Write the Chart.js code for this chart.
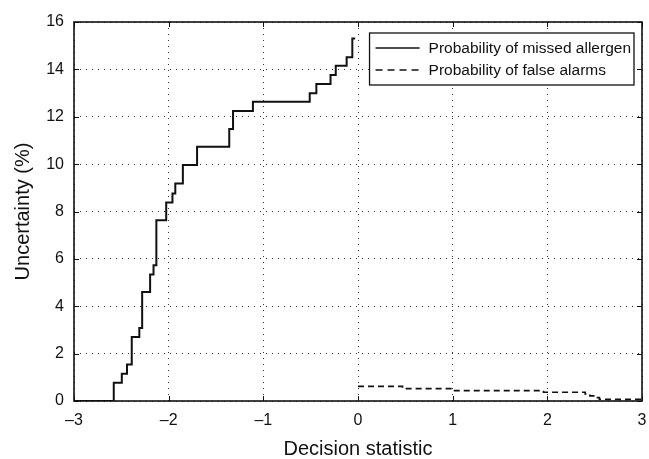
<!DOCTYPE html>
<html>
<head>
<meta charset="utf-8">
<script src="https://cdn.jsdelivr.net/npm/chart.js@4"></script>
<style>
  html, body { margin: 0; padding: 0; background: #fff; }
  #wrap { width: 649px; height: 459px; }
</style>
</head>
<body>
<div id="wrap"><canvas id="chart"></canvas></div>
<script>
// Вероятность пропуска аллергена (ступенчатая)
const missedX = [-3, -2.58, -2.495, -2.44, -2.39, -2.31, -2.28, -2.196, -2.16, -2.13, -2.026, -1.96, -1.93,
    -1.85, -1.70, -1.36, -1.32, -1.11, -0.51, -0.44, -0.29, -0.235, -0.12, -0.06, -0.03];
const missedY = [0, 0.77, 1.15, 1.54, 2.70, 3.08, 4.6, 5.34, 5.73, 7.63, 8.38, 8.76, 9.18,
    9.96, 10.73, 11.48, 12.24, 12.63, 12.99, 13.38, 13.76, 14.15, 14.51, 15.3, 15.3];

// Вероятность ложных тревог
const falseX = [0, 0.47, 1.0, 1.96, 2.40, 2.45, 2.50, 2.55, 3];
const falseY = [0.62, 0.52, 0.44, 0.37, 0.30, 0.22, 0.14, 0.07, 0.07];

const seriesLabels = ['Probability of missed allergen', 'Probability of false alarms'];
const xTicks = [-3, -2, -1, 0, 1, 2, 3];
const yTicks = [0, 2, 4, 6, 8, 10, 12, 14, 16];

const FONT = "'Liberation Sans', Arial, Helvetica, sans-serif";

const toPoints = (xs, ys) => xs.map((x, i) => ({ x: x, y: ys[i] }));

// Рамка, внутренние засечки и легенда в стиле MATLAB
const boxPlugin = {
    id: 'boxPlugin',
    afterDatasetsDraw(chart) {
        const { ctx, chartArea: a, scales } = chart;
        ctx.save();
        ctx.strokeStyle = '#111';
        ctx.lineWidth = 1;
        const tl = 5;
        ctx.beginPath();
        xTicks.forEach(v => {
            const px = Math.round(scales.x.getPixelForValue(v)) + 0.5;
            ctx.moveTo(px, a.bottom); ctx.lineTo(px, a.bottom - tl);
            ctx.moveTo(px, a.top); ctx.lineTo(px, a.top + tl);
        });
        yTicks.forEach(v => {
            const py = Math.round(scales.y.getPixelForValue(v)) + 0.5;
            ctx.moveTo(a.left, py); ctx.lineTo(a.left + tl, py);
            ctx.moveTo(a.right, py); ctx.lineTo(a.right - tl, py);
        });
        ctx.stroke();
        ctx.lineWidth = 1.6;
        ctx.strokeRect(a.left, a.top, a.right - a.left, a.bottom - a.top);

        // легенда
        ctx.font = '15.5px ' + FONT;
        const textW = Math.max(...chart.data.datasets.map(d => ctx.measureText(d.label).width));
        const sample = 44;
        const w = 6 + sample + 9 + textW + 3;
        const h = 52;
        const lx = a.right - 8 - w;
        const ly = a.top + 11;
        ctx.fillStyle = '#fff';
        ctx.fillRect(lx, ly, w, h);
        ctx.lineWidth = 1.3;
        ctx.strokeStyle = '#111';
        ctx.strokeRect(lx, ly, w, h);
        chart.data.datasets.forEach((d, i) => {
            const cy = ly + 15 + i * 22;
            ctx.beginPath();
            ctx.setLineDash(d.borderDash ? [7, 5] : []);
            ctx.lineWidth = 1.6;
            ctx.moveTo(lx + 6, cy);
            ctx.lineTo(lx + 6 + sample, cy);
            ctx.stroke();
            ctx.setLineDash([]);
            ctx.fillStyle = '#111';
            ctx.textBaseline = 'middle';
            ctx.textAlign = 'left';
            ctx.fillText(d.label, lx + 6 + sample + 9, cy + 1);
        });
        ctx.restore();
    }
};

document.addEventListener('DOMContentLoaded', () => {
    new Chart(document.getElementById('chart').getContext('2d'), {
        type: 'line',
        data: {
            datasets: [{
                label: seriesLabels[0],
                data: toPoints(missedX, missedY),
                borderColor: '#111',
                borderWidth: 2,
                pointRadius: 0,
                stepped: 'before',
                fill: false
            }, {
                label: seriesLabels[1],
                data: toPoints(falseX, falseY),
                borderColor: '#111',
                borderWidth: 1.7,
                borderDash: [6, 4],
                pointRadius: 0,
                stepped: 'before',
                fill: false
            }]
        },
        plugins: [boxPlugin],
        options: {
            responsive: true,
            maintainAspectRatio: false,
            animation: false,
            layout: { padding: { left: 0, right: 7, top: 22, bottom: 0 } },
            plugins: {
                legend: { display: false },
                tooltip: { enabled: false }
            },
            scales: {
                x: {
                    type: 'linear',
                    min: -3,
                    max: 3,
                    afterFit: s => {
                        s.height = 58;
                        s.paddingLeft = 0;
                        s.paddingRight = 0;
                    },
                    afterBuildTicks: s => { s.ticks = xTicks.map(v => ({ value: v })); },
                    ticks: {
                        color: '#111',
                        padding: 10,
                        font: { family: FONT, size: 16 },
                        callback: v => v < 0 ? '\u2013' + Math.abs(v) : String(v)
                    },
                    grid: { color: '#333', lineWidth: 1, drawTicks: false },
                    border: { display: false, dash: [1, 5] },
                    title: {
                        display: true,
                        text: 'Decision statistic',
                        color: '#111',
                        padding: { top: 0, bottom: 0 },
                        font: { family: FONT, size: 20, lineHeight: 1 }
                    }
                },
                y: {
                    min: 0,
                    max: 16,
                    afterFit: s => {
                        s.width = 74;
                        s.paddingTop = 0;
                        s.paddingBottom = 0;
                    },
                    afterBuildTicks: s => { s.ticks = yTicks.map(v => ({ value: v })); },
                    ticks: {
                        color: '#111',
                        padding: 10,
                        font: { family: FONT, size: 16 }
                    },
                    grid: { color: '#333', lineWidth: 1, drawTicks: false },
                    border: { display: false, dash: [1, 5] },
                    title: {
                        display: true,
                        text: 'Uncertainty (%)',
                        color: '#111',
                        padding: { top: 13, bottom: 0 },
                        font: { family: FONT, size: 20, lineHeight: 1 }
                    }
                }
            }
        }
    });
});
</script>
</body>
</html>
